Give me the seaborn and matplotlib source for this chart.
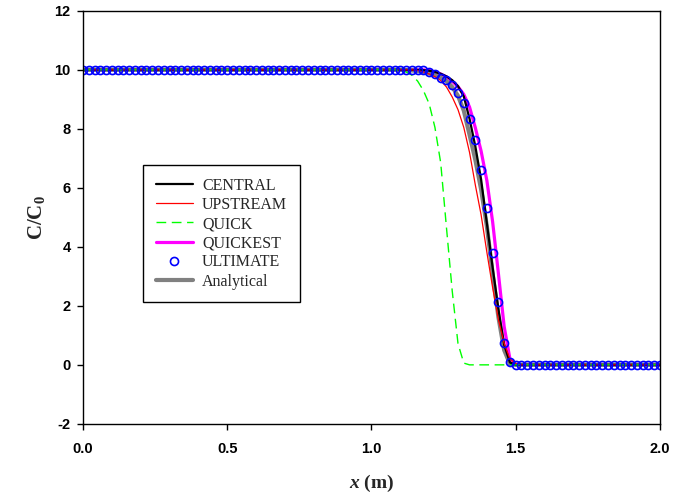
import numpy as np
import pandas as pd
import matplotlib
matplotlib.use("Agg")
import matplotlib.pyplot as plt
import seaborn as sns

# Malla espacial (paso 0.02 m)
x_left = np.round(np.arange(0.0, 1.05, 0.02), 2)      # 0.00 .. 1.04  (C/C0 = 10)
x_mid = [1.06, 1.08, 1.10, 1.12, 1.14, 1.16, 1.18, 1.20, 1.22, 1.24, 1.26, 1.28,
         1.30, 1.32, 1.34, 1.36, 1.38, 1.40, 1.42, 1.44, 1.46, 1.48, 1.50, 1.52]
x_right = np.round(np.arange(1.54, 2.001, 0.02), 2)   # 1.54 .. 2.00  (C/C0 = 0)

central = [10, 10, 10, 10, 10, 10, 9.99, 9.97, 9.93, 9.87, 9.78, 9.65,
           9.45, 9.10, 8.34, 7.41, 6.29, 4.80, 3.30, 1.90, 0.68, 0.08, 0, 0]
upstream = [10, 10, 10, 10, 10, 9.98, 9.93, 9.86, 9.77, 9.64, 9.42, 9.08,
            8.65, 8.05, 7.20, 6.10, 5.09, 3.82, 2.62, 1.53, 0.73, 0.20, 0.05, 0]
quick = [10, 10, 9.98, 9.93, 9.82, 9.62, 9.30, 8.85, 8.05, 6.85, 4.65, 2.50,
         0.72, 0.06, 0, 0, 0, 0, 0, 0, 0, 0, 0, 0]
quickest = [10, 10, 10, 10, 10, 10, 10, 9.98, 9.93, 9.86, 9.76, 9.61,
            9.43, 9.17, 8.74, 8.04, 7.25, 6.25, 4.85, 3.10, 1.30, 0.20, 0, 0]
ultimate = [10, 10, 10, 10, 10, 10, 9.98, 9.94, 9.85, 9.74, 9.67, 9.49,
            9.21, 8.87, 8.33, 7.62, 6.61, 5.33, 3.79, 2.14, 0.75, 0.08, 0, 0]
analytical = [10, 10, 10, 9.99, 9.98, 9.96, 9.93, 9.88, 9.82, 9.74, 9.62, 9.42,
              9.12, 8.62, 7.80, 6.95, 5.95, 4.70, 3.10, 1.62, 0.50, 0.03, 0, 0]

x_ticks = [0.0, 0.5, 1.0, 1.5, 2.0]
y_ticks = [-2, 0, 2, 4, 6, 8, 10, 12]


def full(vals):
    return np.concatenate([np.full(len(x_left), 10.0), vals, np.zeros(len(x_right))])


x = np.concatenate([x_left, x_mid, x_right])
df = pd.DataFrame({
    "x": x,
    "CENTRAL": full(central),
    "UPSTREAM": full(upstream),
    "QUICK": full(quick),
    "QUICKEST": full(quickest),
    "ULTIMATE": full(ultimate),
    "Analytical": full(analytical),
})

sns.set_style("ticks")
plt.rcParams["mathtext.fontset"] = "custom"
plt.rcParams["mathtext.it"] = "Liberation Serif:italic:bold"
plt.rcParams["mathtext.rm"] = "Liberation Serif:bold"
plt.rcParams["mathtext.bf"] = "Liberation Serif:bold"

fig = plt.figure(figsize=(6.86, 4.94), dpi=100)
ax = fig.add_axes([0.121, 0.142, 0.841, 0.836])

common = dict(data=df, x="x", ax=ax, sort=False, errorbar=None)
sns.lineplot(y="QUICKEST", color="#FF00FF", lw=2.3, label="QUICKEST", **common)
sns.lineplot(y="Analytical", color="#808080", lw=3.0, label="Analytical", **common)
sns.lineplot(y="CENTRAL", color="black", lw=1.6, label="CENTRAL", **common)
sns.lineplot(y="UPSTREAM", color="#FF0000", lw=0.9, label="UPSTREAM", **common)
sns.lineplot(y="QUICK", color="#00FF00", lw=1.0, dashes=False, label="QUICK", **common)
ax.lines[-1].set_dashes([7, 4])
sns.lineplot(y="ULTIMATE", color="#0000FF", lw=0, marker="o", markersize=5.8,
             markerfacecolor="none", markeredgecolor="#0000FF", markeredgewidth=1.2,
             label="ULTIMATE", **common)

ax.set_xlim(0, 2)
ax.set_ylim(-2, 12)
ax.set_xticks(x_ticks)
ax.set_xticklabels([f"{t:.1f}" for t in x_ticks])
ax.set_yticks(y_ticks)
ax.set_yticklabels([str(t) for t in y_ticks])
for lab in ax.get_xticklabels() + ax.get_yticklabels():
    lab.set_fontfamily("Liberation Sans")
    lab.set_fontweight("bold")
    lab.set_fontsize(10.5)
ax.tick_params(axis="x", direction="out", length=4, width=1, pad=9, colors="black")
ax.tick_params(axis="y", direction="out", length=4, width=1, pad=5, colors="black")
for sp in ax.spines.values():
    sp.set_visible(True)
    sp.set_color("black")
    sp.set_linewidth(1.0)

ax.set_xlabel(r"$x$ (m)", fontfamily="Liberation Serif", fontweight="bold",
              fontsize=14, labelpad=12)
ax.set_ylabel(r"C/C$_0$", fontfamily="Liberation Serif", fontweight="bold",
              fontsize=15, labelpad=5)

# Leyenda en el orden original
handles, labels = ax.get_legend_handles_labels()
order = ["CENTRAL", "UPSTREAM", "QUICK", "QUICKEST", "ULTIMATE", "Analytical"]
hmap = dict(zip(labels, handles))
leg = ax.legend([hmap[k] for k in order], order, loc="upper left",
                bbox_to_anchor=(0.104, 0.627), borderaxespad=0,
                prop={"family": "Liberation Serif", "size": 11.5},
                frameon=True, fancybox=False, edgecolor="black",
                handlelength=2.3, handletextpad=0.6, labelspacing=0.2,
                borderpad=0.8)
leg.get_frame().set_linewidth(1.0)
leg.get_frame().set_alpha(None)

fig.savefig("out.png", dpi=100)
